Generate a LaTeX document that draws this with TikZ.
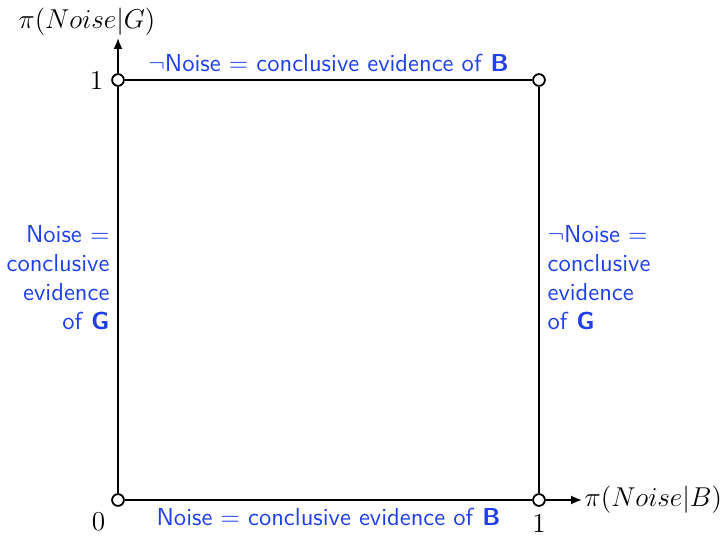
\documentclass[tikz,border=0pt]{standalone}
\usepackage{amsmath,amssymb}
\usepackage{tikz}
\usetikzlibrary{arrows.meta,positioning}
\definecolor{evblue}{HTML}{2040F0}

\begin{document}
\begin{tikzpicture}[
  x=0.44pt,y=0.44pt,
  corner/.style={draw,circle,fill=white,inner sep=0pt,minimum size=5.2pt,line width=0.8pt},
  edge/.style={line width=0.9pt},
  arr/.style={-{Latex[length=1.7mm,width=1.4mm]},line width=0.8pt},
  evid/.style={text=evblue,font=\sffamily\fontsize{10.8}{12.8}\selectfont},
  tick/.style={font=\large},
  axlabel/.style={font=\large,inner sep=1pt}
]
\useasboundingbox (-118,-35) rectangle (605,500);
% corners of the unit square
\node[corner] (o) at (0,0) {};
\node[corner] (tl) at (0,420) {};
\node[corner] (tr) at (421,420) {};
\node[corner] (br) at (421,0) {};
\coordinate (yend) at (0,462);
\coordinate (xend) at (464,0);

% square with the evidence labels
\draw[edge] (tl) -- node[above,evid] {$\neg$Noise $=$ conclusive evidence of \textbf{B}} (tr);
\draw[edge] (o) -- node[below,evid] {Noise $=$ conclusive evidence of \textbf{B}} (br);
\draw[edge] (o) -- node[left,evid,align=right,pos=0.53] {Noise $=$\\conclusive\\evidence\\of \textbf{G}} (tl);
\draw[edge] (br) -- node[right,evid,align=left,pos=0.53] {$\neg$Noise $=$\\conclusive\\evidence\\of \textbf{G}} (tr);

% axes
\draw[arr] (tl) -- (yend);
\draw[arr] (br) -- (xend);
\node[axlabel,anchor=south] (ylab) at (-31,462) {$\pi(Noise|G)$};
\node[axlabel,anchor=west] (xlab) at (xend) {$\pi(Noise|B)$};

% ticks
\node[tick,left=0pt of tl] (one-y) {1};
\node[tick,below left=0pt of o] (zero) {0};
\node[tick,below=0pt of br] (one-x) {1};
\end{tikzpicture}
\end{document}
